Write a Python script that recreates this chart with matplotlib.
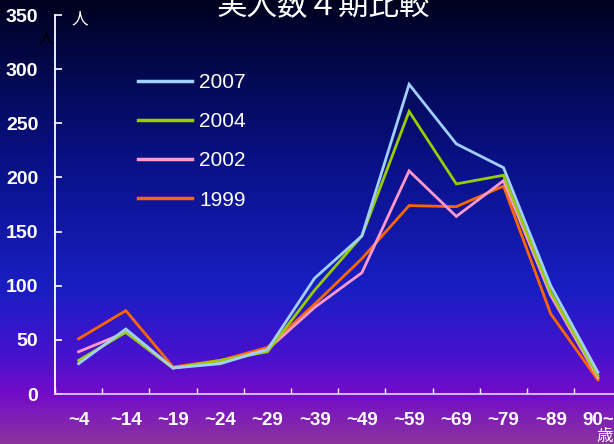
import matplotlib
matplotlib.use("Agg")
import matplotlib.pyplot as plt
import numpy as np
from matplotlib.colors import LinearSegmentedColormap

plt.rcParams["font.family"] = ["Liberation Sans", "Noto Sans CJK JP", "DejaVu Sans"]

# データ
age_labels = ["~4", "~14", "~19", "~24", "~29", "~39", "~49", "~59", "~69", "~79", "~89", "90~"]
series_names = ["2007", "2004", "2002", "1999"]
values_2007 = [28, 60, 24, 28, 41, 107, 146, 286, 231, 209, 100, 20]
values_2004 = [31, 57, 24, 31, 39, 96, 146, 261, 194, 202, 94, 17]
values_2002 = [39, 57, 24, 30, 41, 80, 112, 206, 164, 197, 91, 15]
values_1999 = [51, 77, 25, 31, 43, 83, 125, 174, 173, 192, 74, 13]
y_ticks = [0, 50, 100, 150, 200, 250, 300, 350]

colors = {"2007": "#9fd0ff", "2004": "#99cc00", "2002": "#ff99cc", "1999": "#ff6600"}
series = {"2007": values_2007, "2004": values_2004, "2002": values_2002, "1999": values_1999}

W, H = 614, 444
fig = plt.figure(figsize=(W / 100, H / 100), dpi=100)

# 背景グラデーション
bg = fig.add_axes([0, 0, 1, 1], zorder=-10)
bg.axis("off")
cmap = LinearSegmentedColormap.from_list(
    "bg",
    [
        (0.00, (0 / 255, 2 / 255, 30 / 255)),
        (0.15, (3 / 255, 8 / 255, 75 / 255)),
        (0.35, (8 / 255, 16 / 255, 130 / 255)),
        (0.65, (25 / 255, 30 / 255, 195 / 255)),
        (0.80, (70 / 255, 18 / 255, 205 / 255)),
        (0.89, (115 / 255, 12 / 255, 200 / 255)),
        (1.00, (140 / 255, 52 / 255, 160 / 255)),
    ],
)
grad = np.linspace(0, 1, 256).reshape(-1, 1)
bg.imshow(grad, aspect="auto", cmap=cmap, extent=[0, 1, 0, 1], origin="upper")
bg.set_xlim(0, 1)
bg.set_ylim(0, 1)

ax = fig.add_axes([55 / W, (H - 394) / H, 1 - 55 / W, (394 - 15) / H])
ax.patch.set_alpha(0)

x = np.arange(len(age_labels))
for name in ["1999", "2002", "2004", "2007"]:
    ax.plot(x, series[name], color=colors[name], lw=2.0, solid_joinstyle="miter", label=name)

ax.set_xlim(-0.5, 11.34)
ax.set_ylim(0, 350)
ax.set_yticks(y_ticks)
ax.set_xticks(x)
ax.set_xticklabels(age_labels)
ax.set_xticks(np.arange(len(age_labels)) - 0.5, minor=True)

for s in ["top", "right"]:
    ax.spines[s].set_visible(False)
ax.spines["left"].set_color("white")
ax.spines["left"].set_linewidth(1.3)
ax.spines["bottom"].set_color("#d8c8ff")
ax.spines["bottom"].set_linewidth(1.3)

ax.tick_params(axis="y", direction="in", length=5, width=1.2, color="white",
               labelcolor="white", labelsize=14, pad=12)
ax.tick_params(axis="x", which="major", length=0, labelcolor="white", labelsize=13.5, pad=13)
ax.tick_params(axis="x", which="minor", direction="in", length=4, width=1.0, color="white")
for lab in ax.get_yticklabels() + ax.get_xticklabels():
    lab.set_fontweight("bold")

handles, labels = ax.get_legend_handles_labels()
order = [labels.index(n) for n in series_names]
leg = fig.legend(
    [handles[i] for i in order], [labels[i] for i in order],
    loc="upper left", bbox_to_anchor=(138 / W, 1 - 73 / H),
    frameon=False, fontsize=15, handlelength=2.6, handletextpad=0.35,
    labelspacing=0.97, borderpad=0, borderaxespad=0,
)
for t in leg.get_texts():
    t.set_color("white")
for l in leg.get_lines():
    l.set_linewidth(2.5)

# テキスト
fig.text(323 / W, 1 - 14 / H, "実人数４期比較", color="white", fontsize=22,
         ha="center", va="baseline", family=["Noto Sans CJK JP", "DejaVu Sans"])
fig.text(80 / W, 1 - 19 / H, "人", color="white", fontsize=12, ha="center", va="center",
         family=["Noto Sans CJK JP"])
fig.text(46 / W, 1 - 38 / H, "人", color="black", fontsize=12, ha="center", va="center",
         family=["Noto Sans CJK JP"])
fig.text(605 / W, 1 - 436 / H, "歳", color="white", fontsize=12, ha="center", va="center",
         family=["Noto Sans CJK JP"])

fig.savefig("out.png", dpi=100)
